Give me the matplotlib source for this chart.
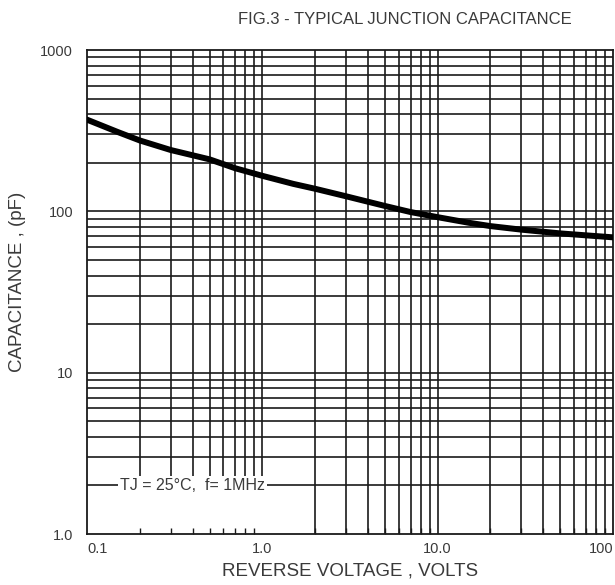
import numpy as np
import matplotlib.pyplot as plt

plt.rcParams['font.family'] = ['Liberation Sans', 'DejaVu Sans']

volts = [0.1, 0.15, 0.2, 0.3, 0.5, 0.7, 1, 1.5, 2, 3, 5, 7, 10, 15, 20, 30, 50, 70, 100]
cap_pf = [370, 310, 275, 240, 210, 185, 166, 148, 138, 124, 108, 99, 92, 85, 81, 77, 73, 71, 69]

xtick_vals = [0.1, 1, 10, 100]
xtick_labels = ['0.1', '1.0', '10.0', '100']
ytick_vals = [1, 10, 100, 1000]
ytick_labels = ['1.0', '10', '100', '1000']

note = 'TJ = 25°C,  f= 1MHz'

fig = plt.figure(figsize=(6.15, 5.85), dpi=100)
ax = fig.add_axes([87 / 615, 51 / 585, 526 / 615, 484 / 585])
ax.set_xscale('log')
ax.set_yscale('log')
ax.set_xlim(0.1, 100)
ax.set_ylim(1, 1000)

gc = '#1a1a1a'
tc = '#3a3a3a'
glw = 1.2

# grid lines: one per 1..9 step of each decade
xg = [m * 10.0 ** e for e in range(-1, 2) for m in range(1, 10)][1:]
yg = [m * 10.0 ** e for e in range(0, 3) for m in range(1, 10)][1:]
for x in xg:
    # lower left corner is left blank for the note
    ax.vlines(x, 2 if x <= 1 else 1, 1000, color=gc, lw=glw, zorder=1)
for y in yg:
    ax.hlines(y, 0.1, 100, color=gc, lw=glw, zorder=1)

ax.plot(volts, cap_pf, color='black', lw=4.3, solid_capstyle='round', zorder=3)

ax.text(0.4, 2, note, ha='center', va='center', fontsize=11.5, color=tc,
        bbox=dict(facecolor='white', edgecolor='none', pad=1.5), zorder=4)

ax.set_xticks(xtick_vals)
ax.set_xticklabels(xtick_labels)
ax.set_yticks(ytick_vals)
ax.set_yticklabels(ytick_labels)
ax.tick_params(which='major', length=0, labelsize=10.5, labelcolor=tc)
ax.tick_params(axis='x', pad=6)
ax.tick_params(axis='y', pad=10)
ax.tick_params(axis='x', which='minor', direction='in', length=4, width=1, color=gc,
               bottom=True, top=False)
ax.tick_params(axis='y', which='minor', length=0)
xl = ax.xaxis.get_majorticklabels()
xl[0].set_horizontalalignment('left')
xl[-1].set_horizontalalignment('right')

for s in ax.spines.values():
    s.set_linewidth(1.3)
    s.set_color(gc)

ax.set_xlabel('REVERSE VOLTAGE , VOLTS', fontsize=13.5, color=tc)
ax.xaxis.set_label_coords(0.5, -29 / 484)
ax.set_ylabel('CAPACITANCE , (pF)', fontsize=13.5, color=tc)
ax.yaxis.set_label_coords(-61 / 526, 0.52)
fig.text(405 / 615, 1 - 19 / 585, 'FIG.3 - TYPICAL JUNCTION CAPACITANCE',
         ha='center', va='center', fontsize=12, color=tc)

fig.savefig('out.png', dpi=100)
